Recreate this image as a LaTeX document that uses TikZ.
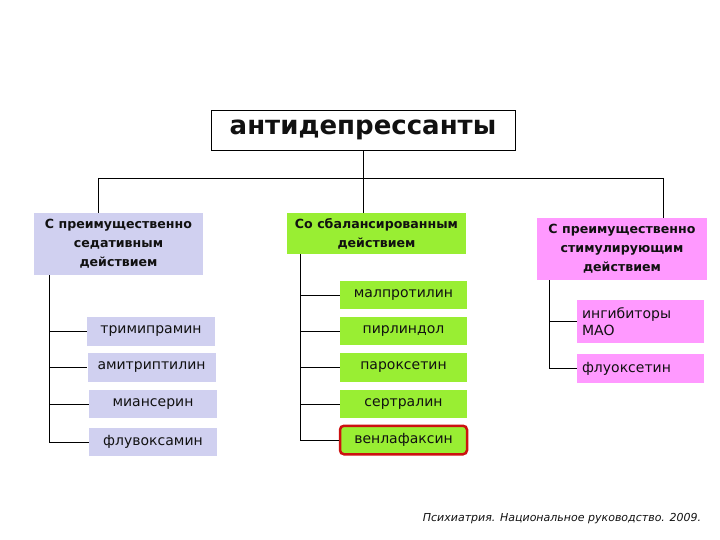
\documentclass[tikz,border=0pt]{standalone}
\usepackage{fontspec}
\setmainfont{DejaVu Sans}
\definecolor{lav}{HTML}{D0D0F0}
\definecolor{lime}{HTML}{99EE33}
\definecolor{pnk}{HTML}{FF99FF}
\definecolor{redb}{HTML}{CC1111}
\definecolor{ink}{HTML}{111111}
\begin{document}
\begin{tikzpicture}[x=1pt,y=-1pt,
  conn/.style={draw=black,line width=0.9pt},
  headbox/.style={inner sep=0pt,align=center,text=ink,font=\bfseries\fontsize{12.6}{19}\selectfont},
  itembox/.style={inner sep=0pt,align=center,text=ink,minimum height=28.5pt,font=\fontsize{14}{17}\selectfont},
  lavbox/.style={itembox,fill=lav,minimum width=128pt},
  limebox/.style={itembox,fill=lime,minimum width=127pt},
  pnkbox/.style={itembox,fill=pnk,minimum width=127pt}]
\useasboundingbox (0,0) rectangle (720,540);
% top
\node[draw=black,line width=0.8pt,fill=white,minimum width=304pt,minimum height=40pt,inner sep=0pt,
  font=\bfseries\fontsize{26}{30}\selectfont,text=ink] (top) at (363,130) {антидепрессанты};
\node[headbox,fill=lav,minimum width=169pt,minimum height=62pt] (lh) at (118.5,244)
  {С преимущественно\\седативным\\действием};
\node[headbox,fill=lime,minimum width=179pt,minimum height=41pt] (mh) at (376.5,233.5)
  {Со сбалансированным\\действием};
\node[headbox,fill=pnk,minimum width=170pt,minimum height=62pt] (rh) at (622,249)
  {С преимущественно\\стимулирующим\\действием};
% tree connectors
\coordinate (tj) at (363,178);
\coordinate (tl) at (98,178);
\coordinate (tr) at (663,178);
\draw[conn] (top.south) -- (tj);
\draw[conn] (tl) -- (tr);
\draw[conn] (tl) -- (tl |- lh.north);
\draw[conn] (tj) -- (tj |- mh.north);
\draw[conn] (tr) -- (tr |- rh.north);
% left items
\node[lavbox] (l1) at (151,331.5) {тримипрамин};
\node[lavbox] (l2) at (151.5,367.5) {амитриптилин};
\node[lavbox] (l3) at (153,404) {миансерин};
\node[lavbox] (l4) at (153,442) {флувоксамин};
\coordinate (lb) at (49,275);
\foreach \n in {l1,l2,l3,l4} \draw[conn] (lb) |- (\n.west);
% middle items
\node[limebox] (m1) at (403.5,295) {малпротилин};
\node[limebox] (m2) at (403.5,331) {пирлиндол};
\node[limebox] (m3) at (403.5,367.5) {пароксетин};
\node[limebox] (m4) at (403.5,404) {сертралин};
\node[limebox,draw=redb,line width=2.5pt,rounded corners=4pt] (m5) at (403.5,440) {венлафаксин};
\coordinate (mb) at (300,254);
\foreach \n in {m1,m2,m3,m4,m5} \draw[conn] (mb) |- (\n.west);
% right items
\node[pnkbox,minimum height=43pt,align=left,text width=117pt] (r1) at (640.5,321.5) {ингибиторы\\МАО};
\node[pnkbox,align=left,text width=117pt] (r2) at (640.5,368.5) {флуоксетин};
\coordinate (rb) at (549,280);
\foreach \n in {r1,r2} \draw[conn] (rb) |- (\n.west);
% caption
\node[font=\itshape\fontsize{11}{13}\selectfont,text=ink] (cap) at (562,519) {Психиатрия. Национальное руководство. 2009.};
\end{tikzpicture}
\end{document}
